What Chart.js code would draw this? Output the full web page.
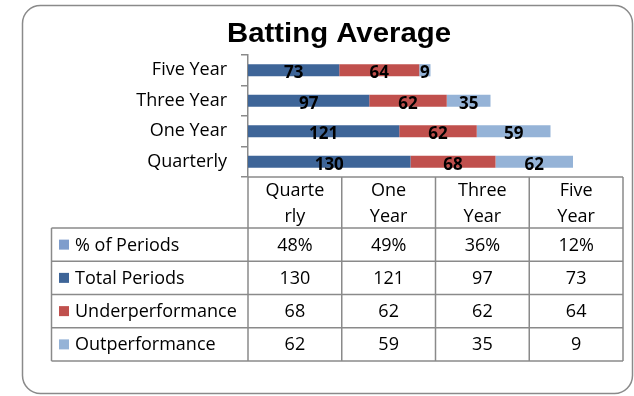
<!DOCTYPE html>
<html>
<head>
<meta charset="utf-8">
<title>Batting Average</title>
<script src="https://cdn.jsdelivr.net/npm/chart.js@4.4.1/dist/chart.umd.min.js"></script>
<style>
  html, body { margin: 0; padding: 0; background: #fff; }
  #wrap { width: 634px; height: 396px; }
</style>
</head>
<body>
<div id="wrap"><canvas id="chart" width="634" height="396"></canvas></div>
<script>
// Series data
const categories = ["Quarterly", "One Year", "Three Year", "Five Year"];
const headerLines = [["Quarte", "rly"], ["One", "Year"], ["Three", "Year"], ["Five", "Year"]];
const pctOfPeriods = [48, 49, 36, 12];
const totalPeriods = [130, 121, 97, 73];
const underperformance = [68, 62, 62, 64];
const outperformance = [62, 59, 35, 9];

const FONT = "'Open Sans', 'Noto Sans', sans-serif";
const LINE = "#8a8a8a";

const colors = {
  pct: "#7f9dcc",
  total: "#3e6598",
  under: "#c0504d",
  out: "#95b3d7"
};

// Rounded outer frame + white background
const framePlugin = {
  id: "frame",
  beforeDraw(chart) {
    const ctx = chart.ctx;
    ctx.save();
    ctx.fillStyle = "#fff";
    ctx.fillRect(0, 0, chart.width, chart.height);
    ctx.beginPath();
    ctx.roundRect(22.5, 5.5, 610, 388, 18);
    ctx.strokeStyle = LINE;
    ctx.lineWidth = 1.5;
    ctx.stroke();
    ctx.restore();
  }
};

// Bold title, stretched slightly to its full width
const titlePlugin = {
  id: "bigTitle",
  afterDraw(chart) {
    const ctx = chart.ctx;
    const text = "Batting Average";
    ctx.save();
    ctx.font = "bold 28px 'Liberation Sans', Arial, sans-serif";
    const w = ctx.measureText(text).width;
    const sx = 224 / w;
    ctx.translate(339, 42);
    ctx.scale(sx, 1);
    ctx.fillStyle = "#000";
    ctx.textAlign = "center";
    ctx.textBaseline = "alphabetic";
    ctx.fillText(text, 0, 0);
    ctx.restore();
  }
};

// Value labels centred in each bar segment
const segmentLabels = {
  id: "segmentLabels",
  afterDatasetsDraw(chart) {
    const ctx = chart.ctx;
    ctx.save();
    ctx.font = "bold 17px " + FONT;
    ctx.fillStyle = "#000";
    ctx.textAlign = "center";
    ctx.textBaseline = "alphabetic";
    chart.data.datasets.forEach((ds, i) => {
      const meta = chart.getDatasetMeta(i);
      meta.data.forEach((bar, j) => {
        const cx = (bar.x + bar.base) / 2;
        ctx.fillText(String(ds.data[j]), cx, bar.y + 8);
      });
    });
    ctx.restore();
  }
};

// Data table under the plot
const dataTable = {
  id: "dataTable",
  afterDraw(chart) {
    const ctx = chart.ctx;
    const area = chart.chartArea;
    const left = 51.5;
    const colW = (area.right - area.left) / categories.length;
    const top = area.bottom;
    const headBottom = 228;
    const rowH = 33.25;
    const rows = [
      { label: "% of Periods", color: colors.pct, values: pctOfPeriods.map(v => v + "%") },
      { label: "Total Periods", color: colors.total, values: totalPeriods },
      { label: "Underperformance", color: colors.under, values: underperformance },
      { label: "Outperformance", color: colors.out, values: outperformance }
    ];
    const bottom = headBottom + rowH * rows.length;

    ctx.save();
    ctx.strokeStyle = LINE;
    ctx.lineWidth = 1.5;
    ctx.beginPath();
    // top line of the header
    ctx.moveTo(area.left, top);
    ctx.lineTo(area.right, top);
    // row lines
    for (let r = 0; r <= rows.length; r++) {
      const y = headBottom + r * rowH;
      ctx.moveTo(left, y);
      ctx.lineTo(area.right, y);
    }
    // column lines
    for (let c = 0; c <= categories.length; c++) {
      const x = area.left + c * colW;
      ctx.moveTo(x, top);
      ctx.lineTo(x, bottom);
    }
    ctx.moveTo(left, headBottom);
    ctx.lineTo(left, bottom);
    ctx.stroke();

    ctx.fillStyle = "#000";
    ctx.font = "18px " + FONT;
    ctx.textBaseline = "alphabetic";
    ctx.textAlign = "center";
    headerLines.forEach((lines, c) => {
      const cx = area.left + (c + 0.5) * colW;
      ctx.fillText(lines[0], cx, 196);
      ctx.fillText(lines[1], cx, 222);
    });

    rows.forEach((row, r) => {
      const cy = headBottom + (r + 0.5) * rowH;
      ctx.fillStyle = row.color;
      ctx.fillRect(59, cy - 5, 10, 10);
      ctx.fillStyle = "#000";
      ctx.textAlign = "left";
      ctx.fillText(row.label, 75, cy + 6);
      ctx.textAlign = "center";
      row.values.forEach((v, c) => {
        ctx.fillText(String(v), area.left + (c + 0.5) * colW, cy + 6);
      });
    });
    ctx.restore();
  }
};

new Chart(document.getElementById("chart"), {
  type: "bar",
  data: {
    labels: categories,
    datasets: [
      { label: "Total Periods", data: totalPeriods, backgroundColor: colors.total },
      { label: "Underperformance", data: underperformance, backgroundColor: colors.under },
      { label: "Outperformance", data: outperformance, backgroundColor: colors.out }
    ]
  },
  options: {
    indexAxis: "y",
    responsive: false,
    animation: false,
    barPercentage: 0.4,
    categoryPercentage: 1,
    layout: { padding: { top: 55, bottom: 219, left: 0, right: 11 } },
    plugins: {
      legend: { display: false },
      title: { display: false },
      tooltip: { enabled: false }
    },
    scales: {
      x: { stacked: true, min: 0, max: 300, display: false },
      y: {
        stacked: true,
        reverse: true,
        offset: true,
        afterFit: (scale) => { scale.width = 248; },
        grid: { drawOnChartArea: false, drawTicks: true, tickLength: 7, color: LINE, offset: true, lineWidth: 1.5 },
        border: { color: LINE, width: 1.5 },
        ticks: { color: "#000", padding: 14, font: { family: FONT, size: 18 } }
      }
    }
  },
  plugins: [framePlugin, titlePlugin, segmentLabels, dataTable]
});
</script>
</body>
</html>
